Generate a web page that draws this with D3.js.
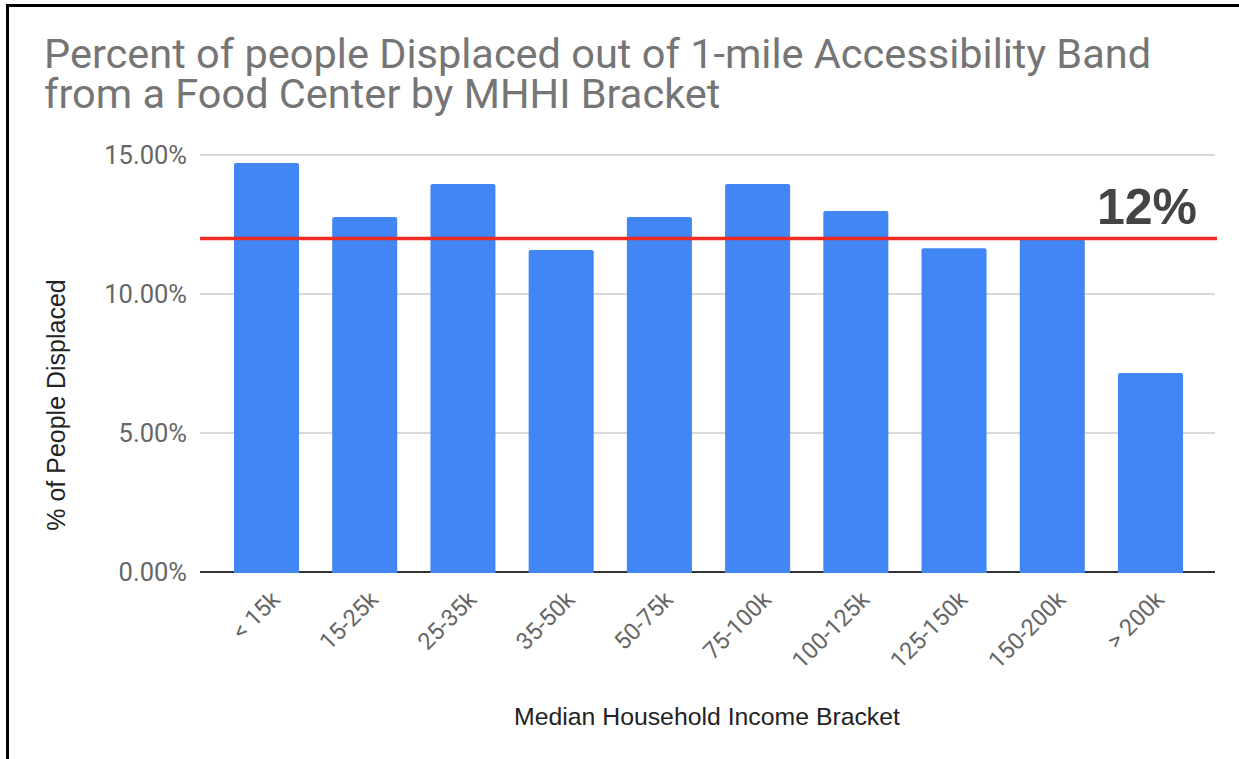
<!DOCTYPE html>
<html>
<head>
<meta charset="utf-8">
<script src="https://cdn.jsdelivr.net/npm/d3@7"></script>
<style>
  html, body { margin: 0; padding: 0; background: #fff; }
  svg { display: block; }
</style>
</head>
<body>
<svg id="chart" width="1239" height="759"></svg>
<script>
// Income brackets and share of people displaced (percent)
const categories = ["< 15k", "15-25k", "25-35k", "35-50k", "50-75k", "75-100k", "100-125k", "125-150k", "150-200k", "> 200k"];
const displaced = [14.71, 12.77, 13.96, 11.58, 12.77, 13.96, 12.99, 11.65, 11.98, 7.16];
const yTicks = [0, 5, 10, 15];
const threshold = 12;
const thresholdLabel = "12%";

const titleLines = ["Percent of people Displaced out of 1-mile Accessibility Band", "from a Food Center by MHHI Bracket"];
const xTitle = "Median Household Income Bracket";
const yTitle = "% of People Displaced";

const svg = d3.select("#chart");
const plot = { left: 200, right: 1215, top: 155, bottom: 572 };

// Frame around the figure
svg.append("path")
  .attr("d", "M7.5,759 L7.5,5.5 L1239,5.5")
  .attr("fill", "none")
  .attr("stroke", "#000")
  .attr("stroke-width", 3);

const y = d3.scaleLinear().domain([0, 15]).range([plot.bottom, plot.top]);
const x = d3.scaleBand().domain(categories)
  .range([217.4, 1199.6])
  .paddingInner(0.338)
  .paddingOuter(0.169);

// Title, two lines
svg.append("g")
  .selectAll("text")
  .data(titleLines)
  .join("text")
  .attr("x", 44)
  .attr("y", (d, i) => 68 + i * 40)
  .attr("font-family", "Roboto")
  .attr("font-size", 41.5)
  .attr("fill", "#757575")
  .text(d => d);

// Horizontal gridlines
svg.append("g")
  .selectAll("line")
  .data(yTicks.filter(t => t > 0))
  .join("line")
  .attr("x1", plot.left).attr("x2", plot.right)
  .attr("y1", d => y(d)).attr("y2", d => y(d))
  .attr("stroke", "#cccccc")
  .attr("stroke-width", 1.5);

// Y axis labels
const yAxis = d3.axisLeft(y).tickValues(yTicks).tickFormat(d => d.toFixed(2) + "%").tickSize(0).tickPadding(13);
const gy = svg.append("g").attr("transform", `translate(${plot.left},0)`).call(yAxis);
gy.select(".domain").remove();
gy.selectAll("text")
  .attr("font-family", "Roboto")
  .attr("font-size", 25.5)
  .attr("fill", "#666");

// Baseline
svg.append("line")
  .attr("x1", plot.left).attr("x2", plot.right)
  .attr("y1", y(0)).attr("y2", y(0))
  .attr("stroke", "#333")
  .attr("stroke-width", 2);

// Bars
svg.append("g")
  .selectAll("path")
  .data(categories.map((c, i) => ({ c, v: displaced[i] })))
  .join("path")
  .attr("fill", "#4285f4")
  .attr("d", d => {
    const x0 = x(d.c), w = x.bandwidth(), y0 = y(d.v), y1 = y(0) + 1, r = 2;
    return `M${x0},${y1} L${x0},${y0 + r} Q${x0},${y0} ${x0 + r},${y0} L${x0 + w - r},${y0} Q${x0 + w},${y0} ${x0 + w},${y0 + r} L${x0 + w},${y1} Z`;
  });

// X axis labels (rotated)
const xAxis = d3.axisBottom(x).tickSize(0).tickPadding(0);
const gx = svg.append("g").attr("transform", `translate(0,${plot.bottom})`).call(xAxis);
gx.select(".domain").remove();
gx.selectAll("text")
  .attr("font-family", "Roboto")
  .attr("font-size", 23.5)
  .attr("fill", "#666")
  .attr("text-anchor", "end")
  .attr("dy", 0)
  .attr("y", 0)
  .attr("transform", "translate(15,29) rotate(-45)");

// Threshold line
svg.append("line")
  .attr("x1", plot.left).attr("x2", plot.right + 2)
  .attr("y1", y(threshold)).attr("y2", y(threshold))
  .attr("stroke", "#ef2b22")
  .attr("stroke-width", 3.5);

svg.append("text")
  .attr("x", 1197)
  .attr("y", 224)
  .attr("text-anchor", "end")
  .attr("font-family", "Liberation Sans, Arial, sans-serif")
  .attr("font-weight", "bold")
  .attr("font-size", 50)
  .attr("fill", "#444")
  .text(thresholdLabel);

// Axis titles
svg.append("text")
  .attr("x", 707)
  .attr("y", 725)
  .attr("text-anchor", "middle")
  .attr("font-family", "Liberation Sans, Arial, sans-serif")
  .attr("font-size", 24.8)
  .attr("fill", "#222")
  .text(xTitle);

svg.append("text")
  .attr("transform", "translate(65,405) rotate(-90)")
  .attr("text-anchor", "middle")
  .attr("font-family", "Liberation Sans, Arial, sans-serif")
  .attr("font-size", 25)
  .attr("fill", "#222")
  .text(yTitle);
</script>
</body>
</html>
